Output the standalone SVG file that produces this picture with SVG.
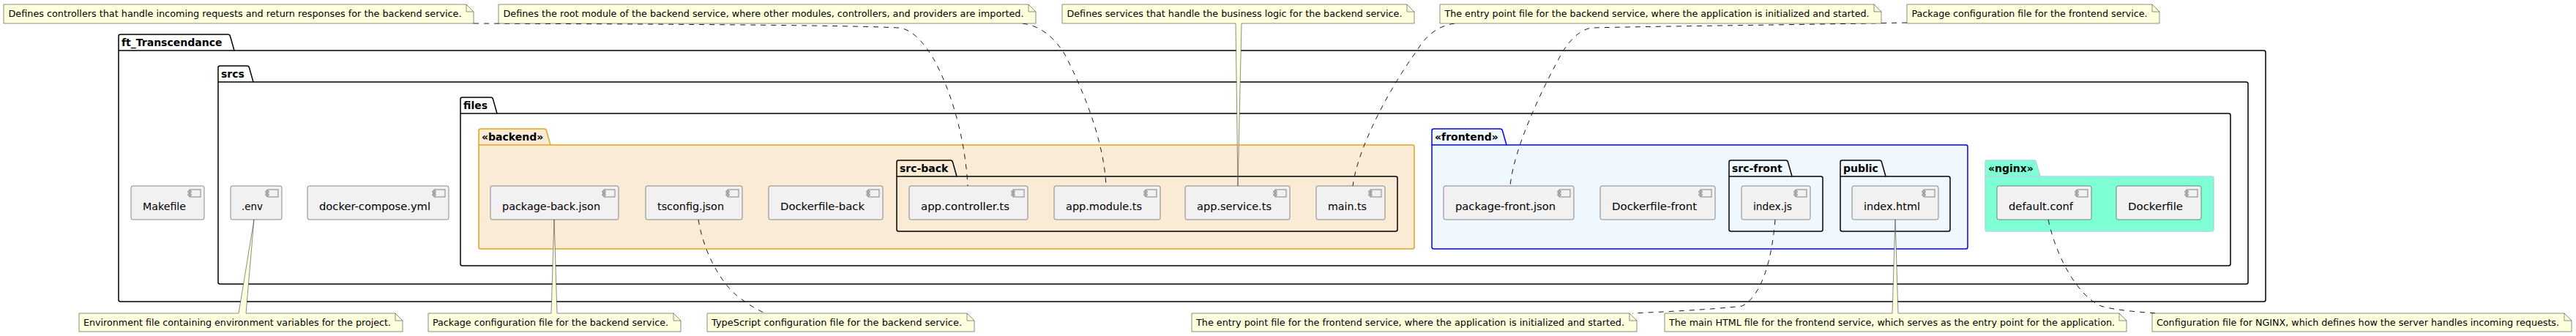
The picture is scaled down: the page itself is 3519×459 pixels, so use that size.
<svg xmlns="http://www.w3.org/2000/svg" width="3519" height="459" viewBox="0 0 3519 459">
<style>
.bg{fill:#FFFFFF}
.comp{fill:#F1F1F1;stroke:#181818;stroke-width:0.5}
.icon{fill:#F1F1F1;stroke:#181818;stroke-width:0.5}
.ctext{font-family:"DejaVu Sans",sans-serif;font-size:14px;fill:#000000}
.note{fill:#FEFFDD;stroke:#181818;stroke-width:0.5}
.fold{fill:none;stroke:#181818;stroke-width:0.5}
.ntext{font-family:"DejaVu Sans",sans-serif;font-size:13px;fill:#000000}
.pkg{fill:none;stroke:#000000;stroke-width:1.5}
.ptitle{font-family:"DejaVu Sans",sans-serif;font-size:14px;font-weight:bold;fill:#000000}
.dash{fill:none;stroke:#181818;stroke-width:1;stroke-dasharray:7,7}
</style>
<defs>
<g id="cicon">
<rect x="-20" y="5" width="15" height="10" class="icon"/>
<rect x="-22" y="7" width="4" height="2" class="icon"/>
<rect x="-22" y="11" width="4" height="2" class="icon"/>
</g>
</defs>
<rect class="bg" x="0" y="0" width="3519" height="459"/>

<g id="pkg-ft">
<path class="pkg" d="M162,69 L162,49.5 Q162,47 164.5,47 L311.5,47 Q314,47 314.5,49.5 L320,69 L3092.5,69 Q3095,69 3095,71.5 L3095,409.5 Q3095,412 3092.5,412 L164.5,412 Q162,412 162,409.5 Z"/>
<path class="pkg" d="M162,69 L320,69"/>
<text class="ptitle" x="166" y="62.5">ft_Transcendance</text>
</g>
<g id="pkg-srcs">
<path class="pkg" d="M298,112 L298,92.5 Q298,90 300.5,90 L337.5,90 Q340,90 340.5,92.5 L346,112 L3068.5,112 Q3071,112 3071,114.5 L3071,385.5 Q3071,388 3068.5,388 L300.5,388 Q298,388 298,385.5 Z"/>
<path class="pkg" d="M298,112 L346,112"/>
<text class="ptitle" x="302" y="105.5">srcs</text>
</g>
<g id="pkg-files">
<path class="pkg" d="M629,155 L629,135.5 Q629,133 631.5,133 L670.5,133 Q673,133 673.5,135.5 L679,155 L3044.5,155 Q3047,155 3047,157.5 L3047,360.5 Q3047,363 3044.5,363 L631.5,363 Q629,363 629,360.5 Z"/>
<path class="pkg" d="M629,155 L679,155"/>
<text class="ptitle" x="633" y="148.5">files</text>
</g>
<g id="pkg-backend">
<path class="pkg" style="fill:#FAEBD7;stroke:#E8A317" d="M654,198 L654,178.5 Q654,176 656.5,176 L743.5,176 Q746,176 746.5,178.5 L752,198 L1929.5,198 Q1932,198 1932,200.5 L1932,337.5 Q1932,340 1929.5,340 L656.5,340 Q654,340 654,337.5 Z"/>
<path class="pkg" style="stroke:#E8A317" d="M654,198 L752,198"/>
<text class="ptitle" x="658" y="191.5">«backend»</text>
</g>
<g id="pkg-src-back">
<path class="pkg" d="M1225,241 L1225,221.5 Q1225,219 1227.5,219 L1298.5,219 Q1301,219 1301.5,221.5 L1307,241 L1906.5,241 Q1909,241 1909,243.5 L1909,313.5 Q1909,316 1906.5,316 L1227.5,316 Q1225,316 1225,313.5 Z"/>
<path class="pkg" d="M1225,241 L1307,241"/>
<text class="ptitle" x="1229" y="234.5">src-back</text>
</g>
<g id="pkg-frontend">
<path class="pkg" style="fill:#F0F8FF;stroke:#0000FF" d="M1956,198 L1956,178.5 Q1956,176 1958.5,176 L2049.5,176 Q2052,176 2052.5,178.5 L2058,198 L2685.5,198 Q2688,198 2688,200.5 L2688,337.5 Q2688,340 2685.5,340 L1958.5,340 Q1956,340 1956,337.5 Z"/>
<path class="pkg" style="stroke:#0000FF" d="M1956,198 L2058,198"/>
<text class="ptitle" x="1960" y="191.5">«frontend»</text>
</g>
<g id="pkg-src-front">
<path class="pkg" d="M2362,241 L2362,221.5 Q2362,219 2364.5,219 L2439.5,219 Q2442,219 2442.5,221.5 L2448,241 L2487.5,241 Q2490,241 2490,243.5 L2490,313.5 Q2490,316 2487.5,316 L2364.5,316 Q2362,316 2362,313.5 Z"/>
<path class="pkg" d="M2362,241 L2448,241"/>
<text class="ptitle" x="2366" y="234.5">src-front</text>
</g>
<g id="pkg-public">
<path class="pkg" d="M2514,241 L2514,221.5 Q2514,219 2516.5,219 L2567.5,219 Q2570,219 2570.5,221.5 L2576,241 L2661.5,241 Q2664,241 2664,243.5 L2664,313.5 Q2664,316 2661.5,316 L2516.5,316 Q2514,316 2514,313.5 Z"/>
<path class="pkg" d="M2514,241 L2576,241"/>
<text class="ptitle" x="2518" y="234.5">public</text>
</g>
<g id="pkg-nginx">
<path class="pkg" style="fill:#7FFFD4;stroke:#ADD8E6" d="M2712,241 L2712,221.5 Q2712,219 2714.5,219 L2778.5,219 Q2781,219 2781.5,221.5 L2787,241 L3021.5,241 Q3024,241 3024,243.5 L3024,313.5 Q3024,316 3021.5,316 L2714.5,316 Q2712,316 2712,313.5 Z"/>
<path class="pkg" style="stroke:#ADD8E6" d="M2712,241 L2787,241"/>
<text class="ptitle" x="2716" y="234.5">«nginx»</text>
</g>

<g id="n-makefile"><rect class="comp" x="179" y="254" width="100" height="46" rx="2.5"/><use href="#cicon" x="279" y="254"/><text class="ctext" x="195" y="287" textLength="59" lengthAdjust="spacingAndGlyphs">Makefile</text></g>
<g id="n-env"><rect class="comp" x="315" y="254" width="70" height="46" rx="2.5"/><use href="#cicon" x="385" y="254"/><text class="ctext" x="330" y="287" textLength="29" lengthAdjust="spacingAndGlyphs">.env</text></g>
<g id="n-compose"><rect class="comp" x="420" y="254" width="193" height="46" rx="2.5"/><use href="#cicon" x="613" y="254"/><text class="ctext" x="436" y="287" textLength="152" lengthAdjust="spacingAndGlyphs">docker-compose.yml</text></g>
<g id="n-package-back"><rect class="comp" x="670" y="254" width="175" height="46" rx="2.5"/><use href="#cicon" x="845" y="254"/><text class="ctext" x="686" y="287" textLength="134" lengthAdjust="spacingAndGlyphs">package-back.json</text></g>
<g id="n-tsconfig"><rect class="comp" x="882" y="254" width="132" height="46" rx="2.5"/><use href="#cicon" x="1014" y="254"/><text class="ctext" x="898" y="287" textLength="91" lengthAdjust="spacingAndGlyphs">tsconfig.json</text></g>
<g id="n-dockerfile-back"><rect class="comp" x="1050" y="254" width="156" height="46" rx="2.5"/><use href="#cicon" x="1206" y="254"/><text class="ctext" x="1066" y="287" textLength="115" lengthAdjust="spacingAndGlyphs">Dockerfile-back</text></g>
<g id="n-controller"><rect class="comp" x="1242" y="254" width="162" height="46" rx="2.5"/><use href="#cicon" x="1404" y="254"/><text class="ctext" x="1258" y="287" textLength="121" lengthAdjust="spacingAndGlyphs">app.controller.ts</text></g>
<g id="n-module"><rect class="comp" x="1440" y="254" width="145" height="46" rx="2.5"/><use href="#cicon" x="1585" y="254"/><text class="ctext" x="1456" y="287" textLength="104" lengthAdjust="spacingAndGlyphs">app.module.ts</text></g>
<g id="n-service"><rect class="comp" x="1619" y="254" width="143" height="46" rx="2.5"/><use href="#cicon" x="1762" y="254"/><text class="ctext" x="1635" y="287" textLength="102" lengthAdjust="spacingAndGlyphs">app.service.ts</text></g>
<g id="n-main"><rect class="comp" x="1798" y="254" width="94" height="46" rx="2.5"/><use href="#cicon" x="1892" y="254"/><text class="ctext" x="1814" y="287" textLength="53" lengthAdjust="spacingAndGlyphs">main.ts</text></g>
<g id="n-package-front"><rect class="comp" x="1972" y="254" width="178" height="46" rx="2.5"/><use href="#cicon" x="2150" y="254"/><text class="ctext" x="1988" y="287" textLength="137" lengthAdjust="spacingAndGlyphs">package-front.json</text></g>
<g id="n-dockerfile-front"><rect class="comp" x="2186" y="254" width="157" height="46" rx="2.5"/><use href="#cicon" x="2343" y="254"/><text class="ctext" x="2202" y="287" textLength="116" lengthAdjust="spacingAndGlyphs">Dockerfile-front</text></g>
<g id="n-indexjs"><rect class="comp" x="2379" y="254" width="94" height="46" rx="2.5"/><use href="#cicon" x="2473" y="254"/><text class="ctext" x="2395" y="287" textLength="53" lengthAdjust="spacingAndGlyphs">index.js</text></g>
<g id="n-indexhtml"><rect class="comp" x="2530" y="254" width="118" height="46" rx="2.5"/><use href="#cicon" x="2648" y="254"/><text class="ctext" x="2546" y="287" textLength="77" lengthAdjust="spacingAndGlyphs">index.html</text></g>
<g id="n-default-conf"><rect class="comp" x="2728" y="254" width="129" height="46" rx="2.5"/><use href="#cicon" x="2857" y="254"/><text class="ctext" x="2744" y="287" textLength="88" lengthAdjust="spacingAndGlyphs">default.conf</text></g>
<g id="n-dockerfile"><rect class="comp" x="2891" y="254" width="116" height="46" rx="2.5"/><use href="#cicon" x="3007" y="254"/><text class="ctext" x="2907" y="287" textLength="75" lengthAdjust="spacingAndGlyphs">Dockerfile</text></g>

<g id="connectors">
<path class="dash" d="M647,32 C900,33 1150,34 1228,38 C1246,40 1262,58 1275,80 C1295,115 1318,180 1322,254"/>
<path class="dash" d="M1397,32 C1420,35 1440,50 1455,75 C1478,120 1508,190 1511,254"/>
<path class="dash" d="M1987,32 C1965,35 1948,48 1935,70 C1900,118 1855,200 1848,254"/>
<path class="dash" d="M2605,31 C2450,34 2250,36 2175,38 C2158,40 2145,55 2135,70 C2110,115 2068,200 2063,254"/>
<path class="dash" d="M954,300 C962,350 990,395 1015,410 C1025,418 1035,423 1045,428"/>
<path class="dash" d="M2425,300 C2420,360 2405,405 2380,418 C2340,423 2270,426 2230,428"/>
<path class="dash" d="M2798,300 C2810,355 2840,405 2870,418 C2890,424 2920,426 2946,428"/>
</g>

<g id="note-controller"><path class="note" d="M5,6 L5,32 L647,32 L647,16 L637,6 Z"/><path class="fold" d="M637,6 L637,16 L647,16"/><text class="ntext" x="11.5" y="23" textLength="619" lengthAdjust="spacingAndGlyphs">Defines controllers that handle incoming requests and return responses for the backend service.</text></g>
<g id="note-module"><path class="note" d="M681,6 L681,32 L1415,32 L1415,16 L1405,6 Z"/><path class="fold" d="M1405,6 L1405,16 L1415,16"/><text class="ntext" x="687.5" y="23" textLength="711" lengthAdjust="spacingAndGlyphs">Defines the root module of the backend service, where other modules, controllers, and providers are imported.</text></g>
<g id="note-service"><path class="note" d="M1451,6 L1451,32 L1688,32 L1691,254 L1696,32 L1932,32 L1932,16 L1922,6 Z"/><path class="fold" d="M1922,6 L1922,16 L1932,16"/><text class="ntext" x="1457.5" y="23" textLength="458" lengthAdjust="spacingAndGlyphs">Defines services that handle the business logic for the backend service.</text></g>
<g id="note-main"><path class="note" d="M1967,6 L1967,32 L2570,32 L2570,16 L2560,6 Z"/><path class="fold" d="M2560,6 L2560,16 L2570,16"/><text class="ntext" x="1973.5" y="23" textLength="580" lengthAdjust="spacingAndGlyphs">The entry point file for the backend service, where the application is initialized and started.</text></g>
<g id="note-package-front"><path class="note" d="M2605,6 L2605,32 L2950,32 L2950,16 L2940,6 Z"/><path class="fold" d="M2940,6 L2940,16 L2950,16"/><text class="ntext" x="2611.5" y="23" textLength="322" lengthAdjust="spacingAndGlyphs">Package configuration file for the frontend service.</text></g>

<g id="note-env"><path class="note" d="M108,428 L326,428 L347,300 L336,428 L540,428 L550,438 L550,453 L108,453 Z"/><path class="fold" d="M540,428 L540,438 L550,438"/><text class="ntext" x="114" y="445" textLength="420" lengthAdjust="spacingAndGlyphs">Environment file containing environment variables for the project.</text></g>
<g id="note-package-back"><path class="note" d="M585,428 L753,428 L757,300 L761,428 L920,428 L930,438 L930,453 L585,453 Z"/><path class="fold" d="M920,428 L920,438 L930,438"/><text class="ntext" x="591" y="445" textLength="322" lengthAdjust="spacingAndGlyphs">Package configuration file for the backend service.</text></g>
<g id="note-tsconfig"><path class="note" d="M966,428 L966,453 L1331,453 L1331,438 L1321,428 Z"/><path class="fold" d="M1321,428 L1321,438 L1331,438"/><text class="ntext" x="972" y="445" textLength="342" lengthAdjust="spacingAndGlyphs">TypeScript configuration file for the backend service.</text></g>
<g id="note-indexjs"><path class="note" d="M1628,428 L1628,453 L2236,453 L2236,438 L2226,428 Z"/><path class="fold" d="M2226,428 L2226,438 L2236,438"/><text class="ntext" x="1634" y="445" textLength="585" lengthAdjust="spacingAndGlyphs">The entry point file for the frontend service, where the application is initialized and started.</text></g>
<g id="note-indexhtml"><path class="note" d="M2274,428 L2585,428 L2589,300 L2593,428 L2895,428 L2905,438 L2905,453 L2274,453 Z"/><path class="fold" d="M2895,428 L2895,438 L2905,438"/><text class="ntext" x="2280" y="445" textLength="609" lengthAdjust="spacingAndGlyphs">The main HTML file for the frontend service, which serves as the entry point for the application.</text></g>
<g id="note-nginx"><path class="note" d="M2940,428 L2940,453 L3513,453 L3513,438 L3503,428 Z"/><path class="fold" d="M3503,428 L3503,438 L3513,438"/><text class="ntext" x="2946" y="445" textLength="550" lengthAdjust="spacingAndGlyphs">Configuration file for NGINX, which defines how the server handles incoming requests.</text></g>
</svg>
